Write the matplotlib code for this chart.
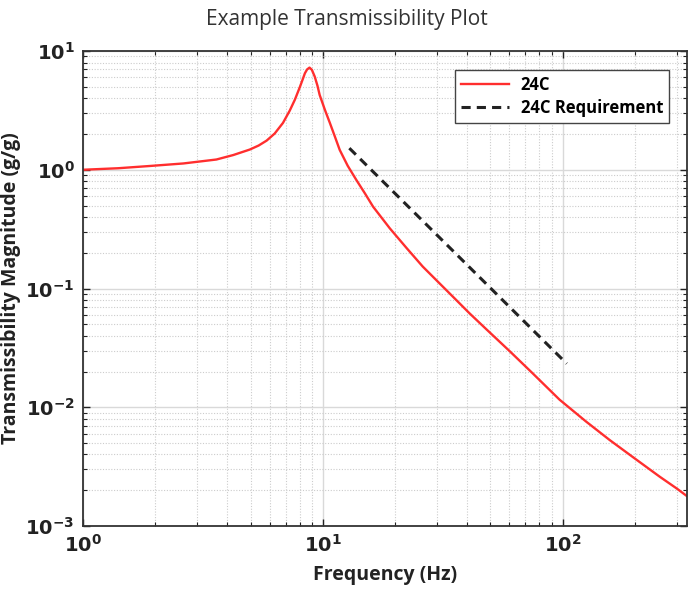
import matplotlib
matplotlib.use("Agg")
import matplotlib.pyplot as plt
from matplotlib.ticker import LogLocator, NullFormatter, FixedLocator

plt.rcParams['font.family'] = ['Open Sans', 'DejaVu Sans']

# response curve (Hz, g/g)
freq_hz = [1.0, 1.4, 1.9, 2.62, 3.6, 4.23, 4.96, 5.4, 5.83, 6.3, 6.82, 7.28,
           7.65, 8.03, 8.25, 8.42, 8.6, 8.8, 9.0, 9.25, 9.5, 9.7, 10.2, 10.7,
           11.2, 11.76, 12.7, 13.8, 15.0, 16.2, 19.03, 22.4, 26.1, 30.6, 36.0,
           40.9, 48.0, 60.1, 75.0, 97.0, 125.0, 157.0, 200.0, 254.0, 300.0, 338.0]
trans_24c = [1.0, 1.03, 1.076, 1.13, 1.22, 1.33, 1.48, 1.6, 1.76, 2.02, 2.48, 3.15,
             3.9, 5.0, 5.8, 6.5, 7.0, 7.25, 6.95, 6.1, 5.1, 4.27, 3.2, 2.48,
             1.93, 1.47, 1.08, 0.82, 0.63, 0.489, 0.321, 0.218, 0.153, 0.111, 0.080,
             0.0618, 0.0455, 0.0297, 0.0193, 0.0116, 0.0076, 0.0053, 0.0037, 0.0026, 0.00206, 0.00172]

# requirement line
req_freq = [12.9, 104.0]
req_trans = [1.52, 0.0233]

fig = plt.figure(figsize=(6.94, 5.94), dpi=100)
ax = fig.add_axes([0.1196, 0.1145, 0.8703, 0.7996])

ax.plot(freq_hz, trans_24c, color='#ff2e2e', lw=1.7, label='24C')
ax.plot(req_freq, req_trans, color='#222222', lw=2.2, ls=(0, (3, 2)), label='24C Requirement')

ax.set_xscale('log')
ax.set_yscale('log')
ax.set_xlim(1, 330)
ax.set_ylim(1e-3, 1e1)

ax.xaxis.set_major_locator(FixedLocator([1, 10, 100]))
ax.yaxis.set_major_locator(FixedLocator([1e-3, 1e-2, 1e-1, 1, 10]))
ax.set_xticklabels([r'$\mathbf{10^{0}}$', r'$\mathbf{10^{1}}$', r'$\mathbf{10^{2}}$'])
ax.set_yticklabels([r'$\mathbf{10^{-3}}$', r'$\mathbf{10^{-2}}$', r'$\mathbf{10^{-1}}$',
                    r'$\mathbf{10^{0}}$', r'$\mathbf{10^{1}}$'])
ax.xaxis.set_minor_locator(LogLocator(base=10, subs=range(2, 10), numticks=20))
ax.yaxis.set_minor_locator(LogLocator(base=10, subs=range(2, 10), numticks=20))
ax.xaxis.set_minor_formatter(NullFormatter())
ax.yaxis.set_minor_formatter(NullFormatter())

ax.tick_params(which='both', direction='in', top=True, right=True, colors='#222222')
ax.tick_params(which='major', length=5, width=1.0, labelsize=14, pad=6)
ax.tick_params(which='minor', length=3, width=0.8)

ax.grid(which='major', color='#d9d9d9', lw=1.0, ls='-')
ax.grid(which='minor', color='#cccccc', lw=0.8, ls=(0, (1, 1.5)))
for s in ax.spines.values():
    s.set_color('#333333')
    s.set_linewidth(1.3)

ax.set_xlabel('Frequency (Hz)', fontsize=14, fontweight='bold', color='#222222', labelpad=6)
ax.set_ylabel('Transmissibility Magnitude (g/g)', fontsize=14, fontweight='bold',
              color='#222222', labelpad=3)
fig.suptitle('Example Transmissibility Plot', fontsize=15, color='#333333', y=0.985)

leg = ax.legend(loc='upper right', bbox_to_anchor=(0.97, 0.96), borderaxespad=0,
                fancybox=False, edgecolor='#444444', framealpha=1,
                prop={'weight': 'bold', 'size': 12}, handlelength=2.9,
                borderpad=0.35, labelspacing=0.3, handletextpad=0.7)
leg.get_frame().set_linewidth(1.0)

fig.savefig('out.png', dpi=100)
